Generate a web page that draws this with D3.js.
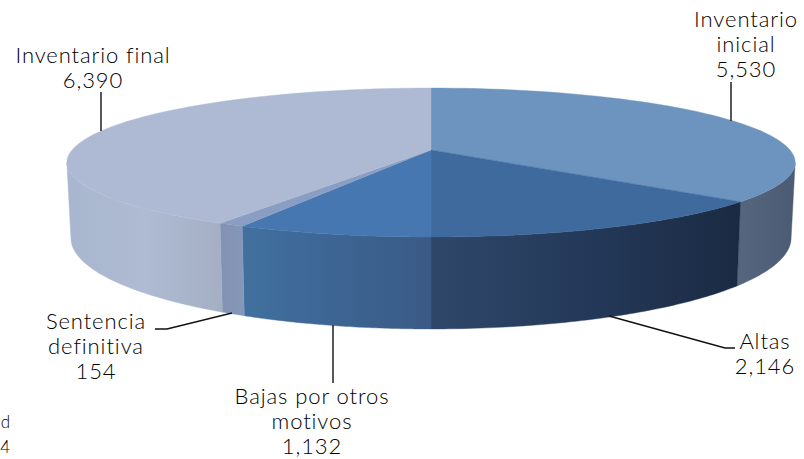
<!DOCTYPE html>
<html>
<head>
<meta charset="utf-8">
<script src="https://cdn.jsdelivr.net/npm/d3@7"></script>
<style>
  html, body { margin: 0; padding: 0; background: #fff; }
  text { font-family: Lato, sans-serif; font-size: 22px; font-weight: 300; fill: #000; letter-spacing: 0.9px; }
</style>
</head>
<body>
<div id="chart"></div>
<script>
const categories = ['Inventario inicial', 'Altas', 'Bajas por otros motivos', 'Sentencia definitiva', 'Inventario final'];
const values = [5530, 2146, 1132, 154, 6390];

const width = 804;
const height = 459;

// perspective of the disc: far side squeezed by k
const cx = 431;
const k = 0.168;
const topDisc = { y: 150, rx: 359, ry: 72.4 };
const baseDisc = { y: 222.6, rx: 355, ry: 88.5 };
const wallFrom = Math.PI - Math.asin(Math.sqrt(1 - k * k));
const wallTo = 2 * Math.PI - wallFrom;

function project(disc, a) {
  const u = Math.sin(a);
  const v = Math.cos(a);
  const w = 1 + k * v;
  return [cx + disc.rx * u / w, disc.y - disc.ry * v / w];
}

const arcPoints = (disc, a0, a1) =>
  d3.range(0, 61).map(i => project(disc, a0 + (a1 - a0) * i / 60));

const line = d3.line();

const slices = d3.pie().sort(null)(values);

const topColors = ['#6d94bf', '#3e6a9d', '#4777b1', '#8a9ec4', '#aebad3'];
// wall shading, left to right
const wallStops = [
  [[0, '#55667e'], [1, '#4a5b73']],
  [[0, '#2e4769'], [0.5, '#24395a'], [1, '#1a2a42']],
  [[0, '#41709f'], [0.4, '#3d6796'], [1, '#3a5a85']],
  [[0, '#8292b2'], [1, '#8598b8']],
  [[0, '#a8b6cf'], [0.5, '#aebbd2'], [1, '#a4afc4']]
];

const svg = d3.select('#chart').append('svg')
  .attr('width', width)
  .attr('height', height)
  .style('display', 'block');

const defs = svg.append('defs');

// walls first, only the part facing the viewer
const walls = svg.append('g');
slices.forEach((s, i) => {
  const a0 = Math.max(s.startAngle, wallFrom);
  const a1 = Math.min(s.endAngle, wallTo);
  if (a1 <= a0) return;
  const pts = arcPoints(topDisc, a0, a1).concat(arcPoints(baseDisc, a0, a1).reverse());
  const xs = d3.extent(pts, p => p[0]);
  const grad = defs.append('linearGradient')
    .attr('id', `wall${i}`)
    .attr('gradientUnits', 'userSpaceOnUse')
    .attr('x1', xs[0]).attr('x2', xs[1])
    .attr('y1', 0).attr('y2', 0);
  grad.selectAll('stop').data(wallStops[i]).enter().append('stop')
    .attr('offset', d => d[0])
    .attr('stop-color', d => d[1]);
  walls.append('path')
    .attr('d', line(pts) + 'Z')
    .attr('fill', `url(#wall${i})`)
    .attr('stroke', `url(#wall${i})`)
    .attr('stroke-width', 0.4);
});

// top face
svg.append('g').selectAll('path')
  .data(slices)
  .enter()
  .append('path')
  .attr('d', s => line([[cx, topDisc.y]].concat(arcPoints(topDisc, s.startAngle, s.endAngle))) + 'Z')
  .attr('fill', (s, i) => topColors[i])
  .attr('stroke', (s, i) => topColors[i])
  .attr('stroke-width', 0.4);

// leaders and labels, placed by hand as in the original
const leaders = [
  [[731, 82], [731, 121]],
  [[609, 316], [725, 348], [735, 348]],
  [[333, 325], [333, 383]],
  [[155, 329], [167, 329], [232, 313]],
  [[101, 92], [101, 131]]
];
const labelLines = [
  ['Inventario', 'inicial'],
  ['Altas'],
  ['Bajas por otros', 'motivos'],
  ['Sentencia', 'definitiva'],
  ['Inventario final']
];
const labelPos = [[746, 27], [765, 349], [312, 404], [96, 329], [93, 63]];

svg.append('g').selectAll('path')
  .data(leaders)
  .enter()
  .append('path')
  .attr('d', d => line(d))
  .attr('fill', 'none')
  .attr('stroke', '#111')
  .attr('stroke-width', 1.4);

const labels = svg.append('g').attr('text-anchor', 'middle');
labelLines.forEach((rows, i) => {
  const t = labels.append('text').attr('transform', `translate(${labelPos[i]})`);
  rows.concat(d3.format(',')(values[i])).forEach((row, r) => {
    t.append('tspan').attr('x', 0).attr('y', r * 25.2).text(row);
  });
});

// stray text at the left edge of the original
const stray = svg.append('g').attr('text-anchor', 'end');
stray.append('text').attr('x', 10).attr('y', 428).style('font-size', '17px').style('letter-spacing', '0').text('d');
stray.append('text').attr('x', 10).attr('y', 453).style('font-size', '17px').style('letter-spacing', '0').text('4');
</script>
</body>
</html>
